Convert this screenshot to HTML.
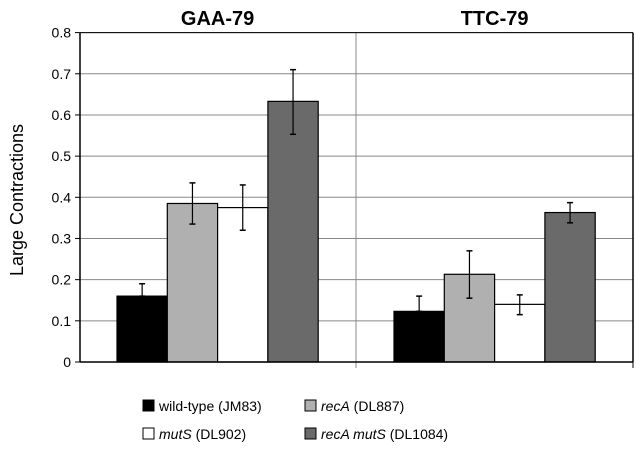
<!DOCTYPE html>
<html><head><meta charset="utf-8"><style>
body{margin:0;background:#fff;font-family:"Liberation Sans",sans-serif}
</style></head><body>
<svg width="636" height="449" viewBox="0 0 636 449" xmlns="http://www.w3.org/2000/svg" font-family="Liberation Sans, sans-serif">
<g id="grid"></g>
<g id="bars"></g>
<g id="axes"></g>
<g id="legend"></g>
</svg>
<script>
const groups = ["GAA-79","TTC-79"];
const seriesNames = ["wild-type","recA","mutS","recA mutS"];
const values = [[0.16,0.385,0.375,0.633],[0.123,0.213,0.14,0.363]];
const errLow = [[0.16,0.335,0.32,0.553],[0.123,0.155,0.115,0.338]];
const errHigh = [[0.19,0.435,0.43,0.71],[0.16,0.27,0.163,0.387]];
const yTicks = [0,0.1,0.2,0.3,0.4,0.5,0.6,0.7,0.8];
const colors = ["#000","#b0b0b0","#fff","#6a6a6a"];
const NS="http://www.w3.org/2000/svg";
const X0=80,X1=633,Y0=362,Y1=32.6;
const y=v=>Y0-(v/0.8)*(Y0-Y1);
const groupStart=[117,394], barW=50.3;
function mk(t,a,p){const e=document.createElementNS(NS,t);for(const k in a)e.setAttribute(k,a[k]);p.appendChild(e);return e;}
const grid=document.getElementById('grid'),bars=document.getElementById('bars'),axes=document.getElementById('axes'),leg=document.getElementById('legend');
yTicks.forEach(t=>{
  if(t>0){const l=mk('line',{x1:X0,x2:X1,y1:y(t),y2:y(t),stroke:'#888','stroke-width':1},grid);
  
  }
  const tk=mk('line',{x1:X0-5,x2:X0,y1:y(t),y2:y(t),stroke:'#000'},axes);
  const tx=mk('text',{x:X0-9,y:y(t)+5,'text-anchor':'end','font-size':14},axes);tx.textContent=t===0?'0':t.toFixed(1);
  
  
});
mk('line',{x1:356,x2:356,y1:Y1,y2:Y0+6,stroke:'#888'},grid);
groups.forEach((g,gi)=>{
  values[gi].forEach((v,si)=>{
    const x=groupStart[gi]+si*barW;
    const r=mk('rect',{x:x,y:y(v),width:barW,height:Y0-y(v),fill:colors[si],stroke:'#000','stroke-width':1.2},bars);
    
    
    const cx=x+barW/2;
    mk('line',{x1:cx,x2:cx,y1:y(errLow[gi][si]),y2:y(errHigh[gi][si]),stroke:'#000','stroke-width':1.2},bars);
    mk('line',{x1:cx-3,x2:cx+3,y1:y(errLow[gi][si]),y2:y(errLow[gi][si]),stroke:'#000','stroke-width':1.5},bars);
    mk('line',{x1:cx-3,x2:cx+3,y1:y(errHigh[gi][si]),y2:y(errHigh[gi][si]),stroke:'#000','stroke-width':1.5},bars);
  });
  const t=mk('text',{x:groupStart[gi]+2*barW,y:25,'text-anchor':'middle','font-size':20,'font-weight':'bold'},axes);t.textContent=g;
  
  
});
mk('line',{x1:X0,x2:X0,y1:Y1,y2:Y0,stroke:'#000','stroke-width':1.5},axes);
mk('line',{x1:X0,x2:X1,y1:Y0,y2:Y0,stroke:'#000','stroke-width':1.5},axes);
mk('line',{x1:X1,x2:X1,y1:Y1,y2:Y0,stroke:'#000','stroke-width':1.5},axes);
mk('line',{x1:X0,x2:X1,y1:Y1,y2:Y1,stroke:'#000','stroke-width':1},axes);
mk('line',{x1:X1,x2:X1,y1:Y0,y2:Y0+6,stroke:'#000'},axes);
const yl=mk('text',{x:0,y:0,transform:'translate(23,200) rotate(-90)','text-anchor':'middle','font-size':18},axes);yl.textContent='Large Contractions';


const legItems=[[143,400,0,'wild-type',' (JM83)',false],[305,400,1,'recA',' (DL887)',true],[143,428,2,'mutS',' (DL902)',true],[305,428,3,'recA mutS',' (DL1084)',true]];
legItems.forEach(it=>{
  mk('rect',{x:it[0],y:it[1],width:11,height:11,fill:colors[it[2]],stroke:'#000'},leg);
  const t=mk('text',{x:it[0]+16,y:it[1]+11,'font-size':14},leg);
  
  
  const a=mk('tspan',{'font-style':it[5]?'italic':'normal'},t);a.textContent=it[3];
  const b=mk('tspan',{},t);b.textContent=it[4];
});
</script>
</body></html>
